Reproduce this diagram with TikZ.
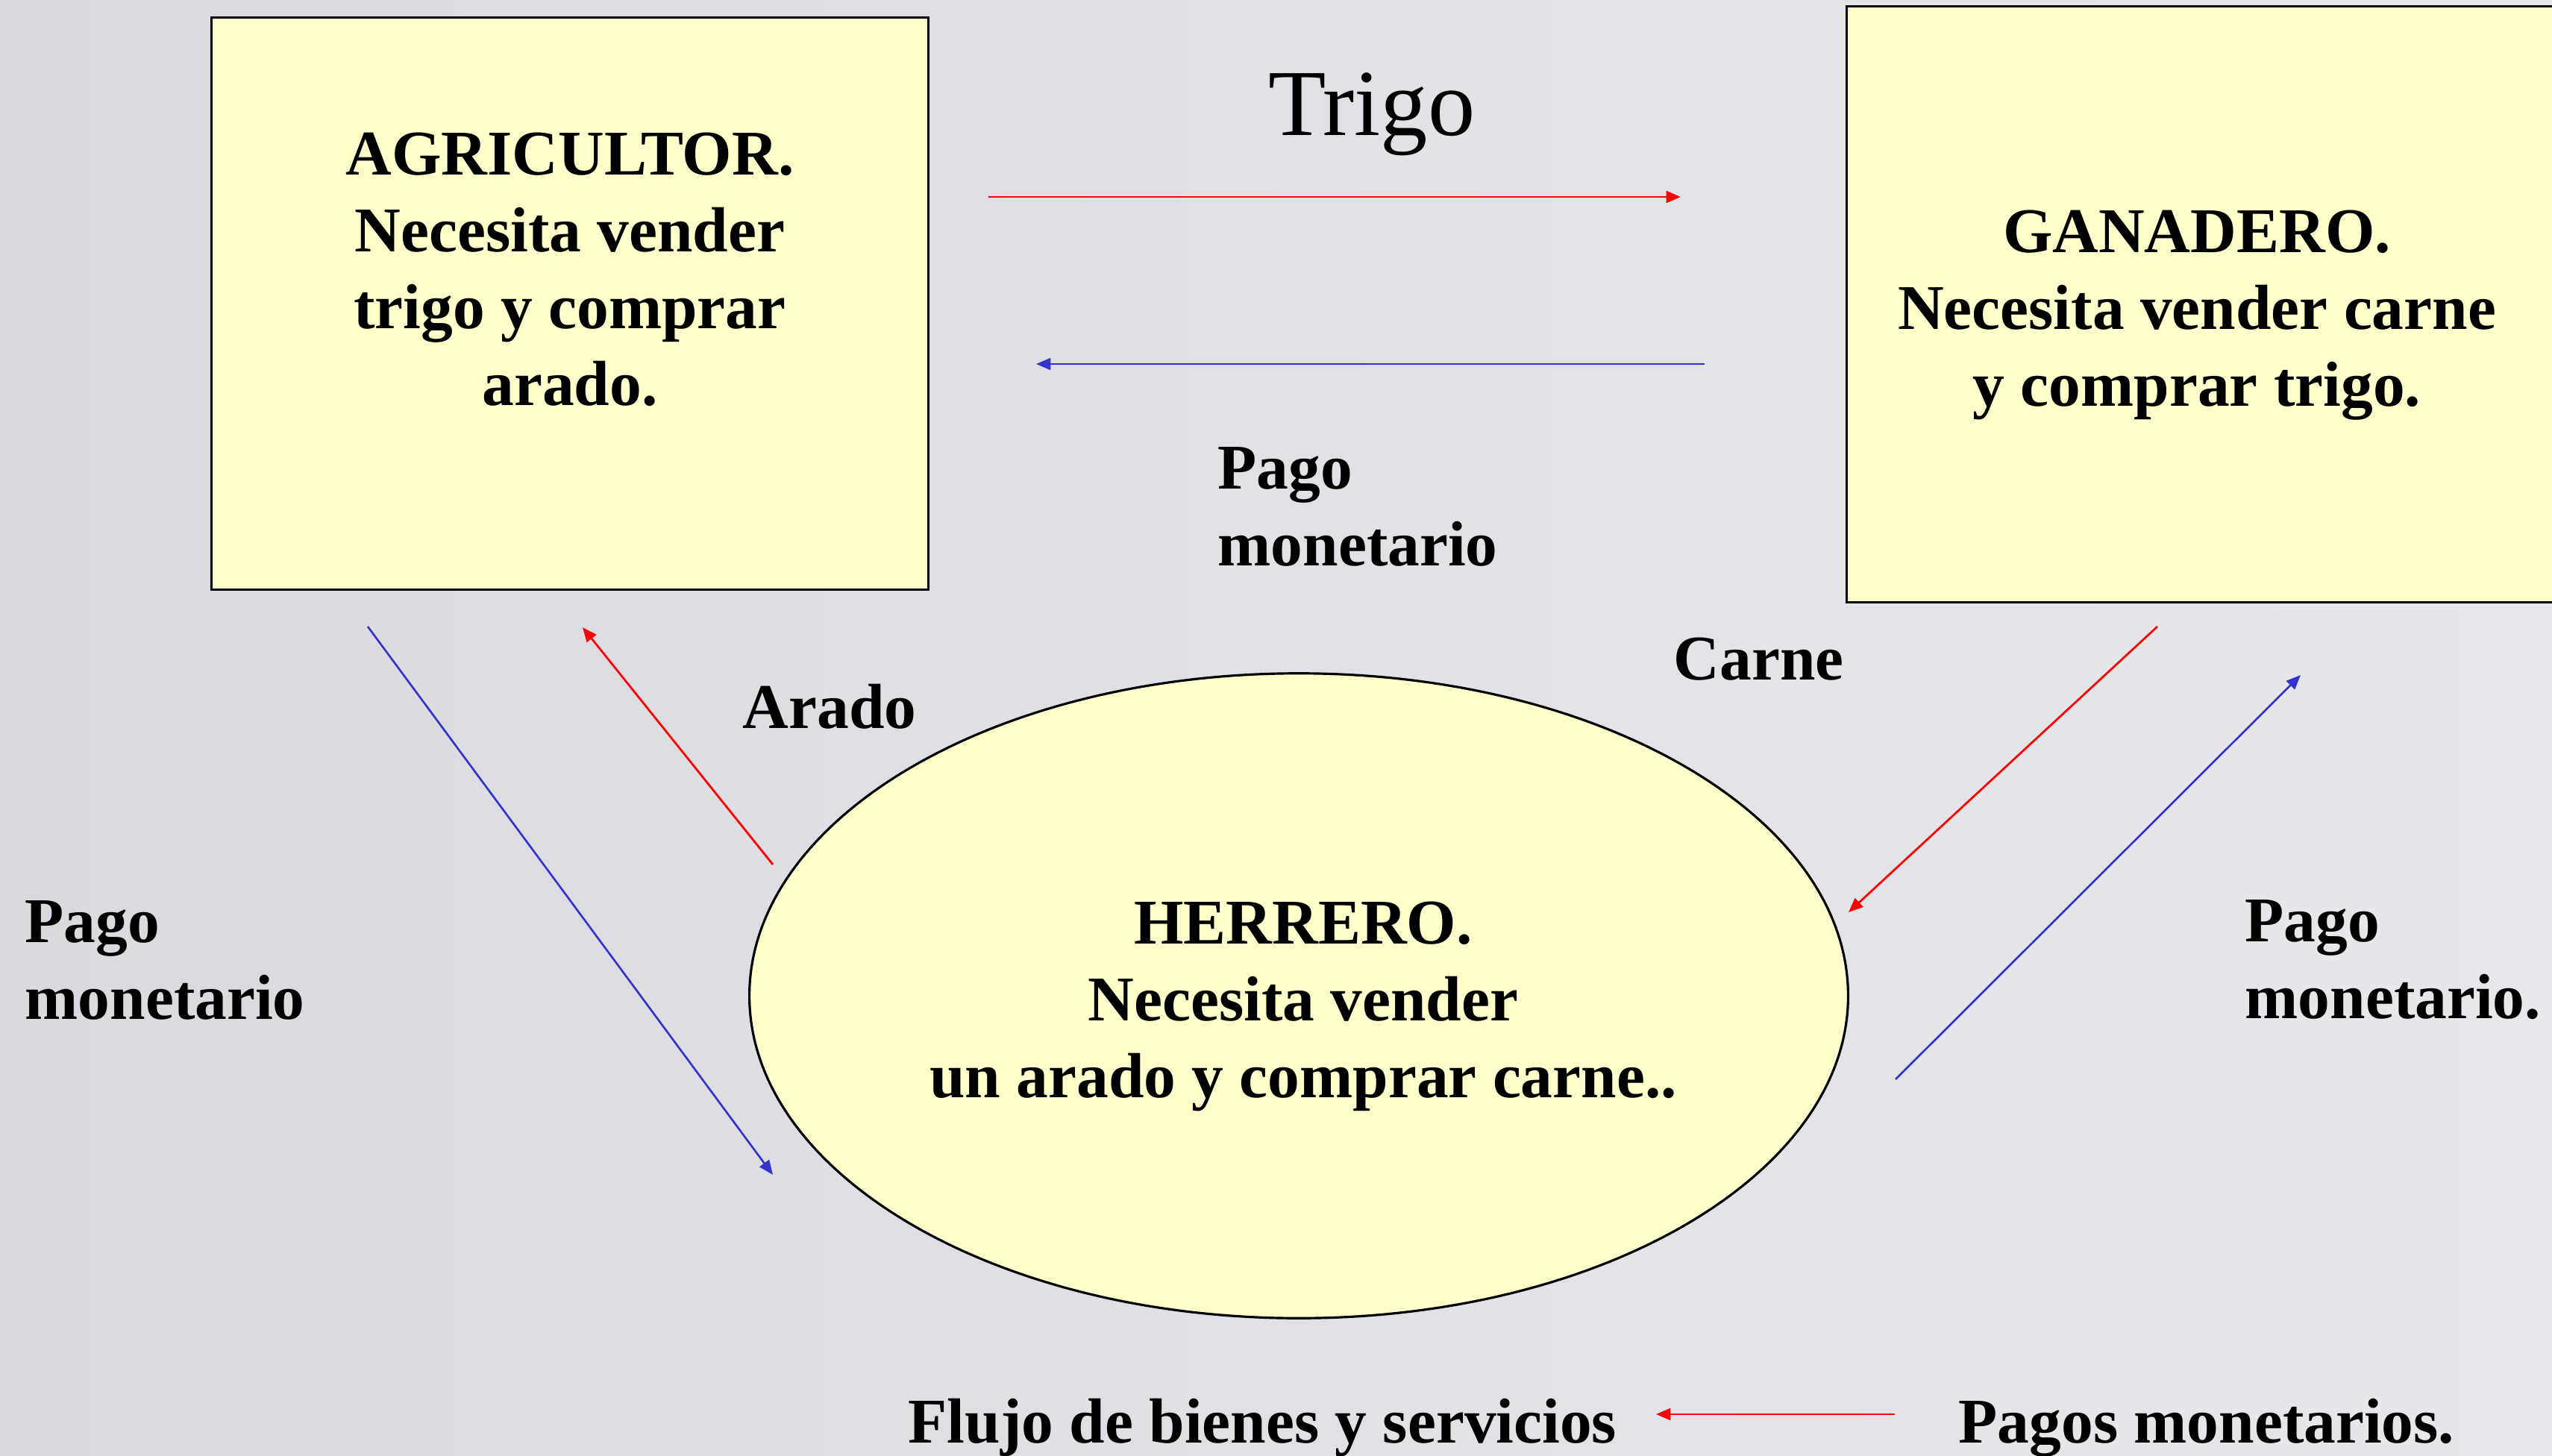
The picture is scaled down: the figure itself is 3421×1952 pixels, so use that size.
\documentclass[tikz,border=0pt]{standalone}
\usepackage{fontspec}
\setmainfont{Liberation Serif}
\usetikzlibrary{arrows.meta,shapes.geometric}
\definecolor{boxyellow}{HTML}{FFFFCC}
\definecolor{moneyblue}{HTML}{3333CC}
\definecolor{bgleft}{HTML}{D9DADF}
\definecolor{bgright}{HTML}{E7E8EC}
\begin{document}
\begin{tikzpicture}[x=0.01cm,y=-0.01cm,
  box/.style={draw=black,line width=0.8pt,fill=boxyellow,inner sep=0pt},
  lbl/.style={font=\bfseries\fontsize{24.3}{29.3}\selectfont,inner sep=0pt},
  goods/.style={draw=red,line width=0.8pt,-{Triangle[length=5.5pt,width=4.5pt]}},
  money/.style={draw=moneyblue,line width=0.75pt,-{Triangle[length=5.5pt,width=4.5pt]}}]
\shade[left color=bgleft,right color=bgright] (0,0) rectangle (3421,1952);
\useasboundingbox (0,0) rectangle (3421,1952);
% nodes
\node[box,minimum width=9.6cm,minimum height=7.66cm] (agr) at (764,407) {};
\node[box,minimum width=9.64cm,minimum height=7.98cm] (gan) at (2958,408) {};
\node[box,ellipse,line width=0.9pt,minimum width=14.72cm,minimum height=8.64cm] (her) at (1741,1335) {};
\node[lbl,align=center] (agrtext) at (764,361) {AGRICULTOR.\\Necesita vender\\trigo y comprar\\arado.};
\node[lbl,align=center] (gantext) at (2945,423) {GANADERO.\\Necesita vender carne\\y comprar trigo.};
\node[lbl,align=center] (hertext) at (1747,1349) {HERRERO.\\Necesita vender\\un arado y comprar carne..};
\node[font=\fontsize{36}{43}\selectfont,inner sep=0pt] (trigo) at (1839,153) {Trigo};
\node[lbl,align=left,anchor=west] (pago1) at (1632,679) {Pago\\monetario};
\node[lbl,anchor=west] (carne) at (2243,884) {Carne};
\node[lbl,anchor=west] (arado) at (995,947) {Arado};
\node[lbl,align=left,anchor=west] (pago2) at (33,1287) {Pago\\monetario};
\node[lbl,align=left,anchor=west] (pago3) at (3009,1287) {Pago\\monetario.};
\node[lbl,anchor=base west] (flujo) at (1217,1934) {Flujo de bienes y servicios};
\node[lbl,anchor=base west] (pagos) at (2625,1934) {Pagos monetarios.};
% arrow ends
\coordinate (t1) at (1325,264); \coordinate (t2) at (2253,264);
\coordinate (p1) at (2285,488); \coordinate (p2) at (1389,488);
\coordinate (a1) at (1036,1159); \coordinate (a2) at (781,841);
\coordinate (m1) at (493,840); \coordinate (m2) at (1036,1575);
\coordinate (c1) at (2892,840); \coordinate (c2) at (2478,1223);
\coordinate (n1) at (2541,1447); \coordinate (n2) at (3084,905);
\coordinate (l1) at (2540,1896); \coordinate (l2) at (2220,1896);
\draw[goods] (t1) -- (t2);
\draw[money] (p1) -- (p2);
\draw[goods] (a1) -- (a2);
\draw[money] (m1) -- (m2);
\draw[goods] (c1) -- (c2);
\draw[money] (n1) -- (n2);
\draw[goods] (l1) -- (l2);
\end{tikzpicture}
\end{document}
